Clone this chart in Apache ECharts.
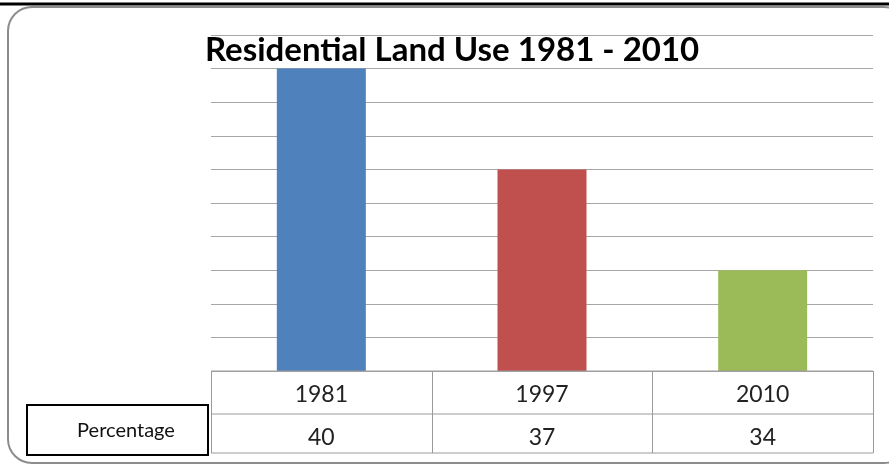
<!DOCTYPE html>
<html>
<head>
<meta charset="utf-8">
<script src="https://cdn.jsdelivr.net/npm/echarts@6/dist/echarts.min.js"></script>
<style>
  html, body { margin: 0; padding: 0; background: #fff; }
  #chart { width: 889px; height: 465px; }
</style>
</head>
<body>
<div id="chart"></div>
<script>
// data
const years = ["1981", "1997", "2010"];
const percentage = [40, 37, 34];
const barColors = ["#4F81BD", "#C0504D", "#9BBB59"];
const rowLabel = "Percentage";

const chart = echarts.init(document.getElementById("chart"));

// table layout (decoration only)
const gridLeft = 211, gridRight = 873, tableTop = 371, rowMid = 414, tableBottom = 453;
const colW = (gridRight - gridLeft) / years.length;
const tableLines = [];
[tableTop, rowMid, tableBottom].forEach(y => {
  tableLines.push({ type: "line", shape: { x1: gridLeft, y1: y, x2: gridRight, y2: y },
    style: { stroke: "#9a9a9a", lineWidth: 1 }, z: 10 });
});
for (let i = 0; i <= years.length; i++) {
  const x = Math.round(gridLeft + i * colW) + 0.5;
  tableLines.push({ type: "line", shape: { x1: x, y1: tableTop, x2: x, y2: tableBottom },
    style: { stroke: "#9a9a9a", lineWidth: 1 }, z: 10 });
}

chart.setOption({
  animation: false,
  title: {
    text: "Residential Land Use 1981 - 2010",
    left: 200,
    top: 29,
    textStyle: { fontFamily: "Lato", fontWeight: "bold", fontSize: 33, color: "#000" }
  },
  grid: { left: gridLeft, right: 889 - gridRight, top: 35, bottom: 465 - tableTop },
  xAxis: [
    {
      type: "category",
      data: years,
      axisLine: { show: false },
      axisTick: { show: false },
      axisLabel: { margin: 12, fontFamily: "Lato", fontSize: 23, color: "#222" }
    },
    {
      type: "category",
      position: "bottom",
      offset: 44,
      data: percentage.map(String),
      axisLine: { show: false },
      axisTick: { show: false },
      axisLabel: { margin: 11, fontFamily: "Lato", fontSize: 23, color: "#222" }
    }
  ],
  yAxis: {
    type: "value",
    min: 31,
    max: 41,
    interval: 1,
    axisLabel: { show: false },
    axisLine: { show: false },
    axisTick: { show: false },
    splitLine: { lineStyle: { color: "#a6a6a6", width: 1 } }
  },
  series: [{
    type: "bar",
    barWidth: 89,
    data: percentage.map((v, i) => ({ value: v, itemStyle: { color: barColors[i] } }))
  }],
  graphic: [
    { type: "rect", shape: { x: 8, y: 7, width: 900, height: 456, r: 24 },
      style: { fill: "none", stroke: "#8c8c8c", lineWidth: 2 }, z: -1 },
    { type: "line", shape: { x1: 0, y1: 4, x2: 889, y2: 4 }, style: { stroke: "#000", lineWidth: 3 } },
    ...tableLines,
    { type: "rect", shape: { x: 27, y: 405, width: 181, height: 50 },
      style: { fill: "#fff", stroke: "#000", lineWidth: 2 }, z: 11 },
    { type: "text", x: 126, y: 431, z: 12,
      style: { text: rowLabel, fontFamily: "Lato", fontSize: 20, fill: "#111", align: "center", verticalAlign: "middle" } }
  ]
});
</script>
</body>
</html>
